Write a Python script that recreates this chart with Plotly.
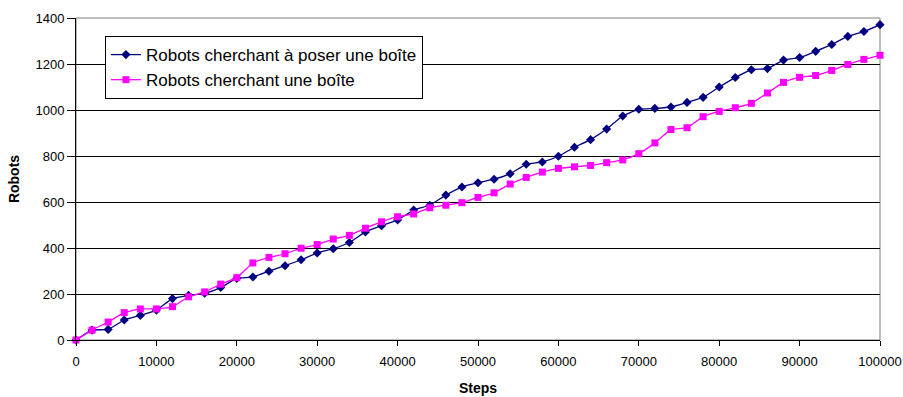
import plotly.graph_objects as go

steps = [0, 2000, 4000, 6000, 8000, 10000, 12000, 14000, 16000, 18000,
         20000, 22000, 24000, 26000, 28000, 30000, 32000, 34000, 36000, 38000,
         40000, 42000, 44000, 46000, 48000, 50000, 52000, 54000, 56000, 58000,
         60000, 62000, 64000, 66000, 68000, 70000, 72000, 74000, 76000, 78000,
         80000, 82000, 84000, 86000, 88000, 90000, 92000, 94000, 96000, 98000,
         100000]

poser = [0, 43, 46, 87, 107, 130, 180, 194, 203, 228,
         268, 274, 299, 323, 349, 378, 397, 424, 470, 497,
         522, 565, 586, 630, 665, 684, 699, 723, 764, 774,
         799, 838, 871, 917, 974, 1003, 1007, 1013, 1033, 1055,
         1100, 1141, 1175, 1180, 1217, 1228, 1255, 1285, 1320, 1341,
         1371]

cherche = [0, 43, 78, 119, 135, 135, 145, 188, 209, 243,
           271, 335, 359, 375, 399, 415, 439, 455, 486, 514,
           536, 548, 575, 586, 597, 620, 640, 678, 707, 730,
           746, 753, 759, 771, 783, 810, 857, 915, 923, 971,
           994, 1010, 1029, 1074, 1120, 1142, 1150, 1172, 1198, 1220,
           1238]

font = "Liberation Sans, Arial, sans-serif"

fig = go.Figure()
fig.add_trace(go.Scatter(x=steps, y=poser,
                         name="Robots cherchant à poser une boîte",
                         legendgroup="a",
                         mode="lines+markers",
                         line=dict(color="#000080", width=1.3, shape="spline", smoothing=0.5),
                         marker=dict(symbol="diamond", size=7, color="#000080"),
                         cliponaxis=False))
fig.add_trace(go.Scatter(x=steps, y=cherche,
                         name="Robots cherchant une boîte",
                         legendgroup="b",
                         mode="lines+markers",
                         line=dict(color="#FF00FF", width=1.3, shape="spline", smoothing=0.5),
                         marker=dict(symbol="square", size=7, color="#FF00FF"),
                         cliponaxis=False))

# grey frame on the top and right of the plot area
fig.add_shape(type="rect", xref="paper", yref="paper", x0=0, y0=0, x1=1, y1=1,
              line=dict(color="#808080", width=1), layer="below")

fig.update_layout(width=903, height=397,
                  margin=dict(l=76, r=23, t=18, b=57),
                  paper_bgcolor="white", plot_bgcolor="white",
                  font=dict(family=font, size=13, color="black"),
                  showlegend=True,
                  legend=dict(x=0.036, y=0.944, xanchor="left", yanchor="top",
                              bgcolor="white", bordercolor="black", borderwidth=1,
                              font=dict(size=17), traceorder="grouped",
                              tracegroupgap=0))

fig.update_xaxes(range=[0, 100000], dtick=10000, tick0=0, tickformat="d",
                 automargin=False,
                 showgrid=False, zeroline=False,
                 showline=True, linecolor="black", linewidth=1,
                 ticks="outside", ticklen=5, tickcolor="black",
                 ticklabelstandoff=4,
                 tickfont=dict(size=13),
                 title=dict(text="<b>Steps</b>", font=dict(size=14), standoff=15))
fig.update_yaxes(range=[0, 1400], dtick=200, tick0=0,
                 automargin=False,
                 showgrid=True, gridcolor="black", gridwidth=1,
                 zeroline=False,
                 showline=True, linecolor="black", linewidth=1,
                 ticks="outside", ticklen=8, tickcolor="black",
                 tickfont=dict(size=13),
                 title=dict(text="<b>Robots</b>", font=dict(size=14), standoff=12))

fig.write_html("out.html", config={"displayModeBar": False},
               post_script="document.body.style.margin = '0';")
